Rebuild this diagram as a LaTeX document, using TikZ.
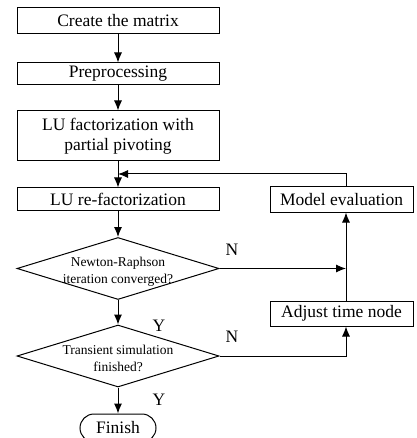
\documentclass[tikz,border=0pt]{standalone}
\usepackage{fontspec}
\setmainfont{Liberation Serif}
\usetikzlibrary{shapes.geometric,shapes.misc,arrows.meta}

\tikzset{
  stepbox/.style={draw, line width=1pt, inner sep=0pt, minimum width=202pt,
    align=center, font=\fontsize{17.5}{20}\selectfont},
  sidebox/.style={draw, line width=1pt, inner sep=0pt, minimum width=143pt,
    minimum height=25pt, font=\fontsize{17.5}{20}\selectfont},
  decision/.style={draw, line width=1pt, diamond, inner sep=0pt,
    minimum width=202pt, minimum height=62pt},
  dectext/.style={align=center, font=\fontsize{13.5}{17}\selectfont},
  term/.style={draw, line width=1pt, rounded rectangle, inner sep=0pt,
    minimum width=76pt, minimum height=28pt, font=\fontsize{17.5}{20}\selectfont},
  flag/.style={font=\fontsize{17.5}{20}\selectfont},
}

\begin{document}
\begin{tikzpicture}[x=1pt,y=-1pt,>={Latex[length=10pt,width=8pt]},line width=1pt]
  \useasboundingbox (0,0) rectangle (416,438);

  % main column
  \node[stepbox, minimum height=26pt] (create) at (118,21) {Create the matrix};
  \node[stepbox, minimum height=22pt] (prep) at (118,74) {Preprocessing};
  \node[stepbox, minimum height=50pt] (lufac) at (118,136) {LU factorization with\\partial pivoting};
  \node[stepbox, minimum height=22pt] (refac) at (118,199) {LU re-factorization};
  \node[decision] (nr) at (118,268.5) {};
  \node[dectext] (nrtext) at (118,272) {Newton-Raphson\\iteration converged?};
  \node[decision] (ts) at (118,356) {};
  \node[dectext] (tstext) at (118,358) {Transient simulation\\finished?};
  \node[term] (finish) at (118,428) {Finish};

  % right column
  \node[sidebox] (model) at (341.5,199.5) {Model evaluation};
  \node[sidebox] (adjust) at (341.5,313.5) {Adjust time node};
  \coordinate (rail) at (346,268.5);
  \coordinate (loop) at (118,174);

  \draw[->] (create) -- (prep);
  \draw[->] (prep) -- (lufac);
  \draw[->] (lufac) -- (refac);
  \draw[->] (refac) -- (nr);
  \draw[->] (nr) -- (ts);
  \draw[->] (ts) -- (finish);

  \draw[->] (nr.east) -- (rail);
  \draw[->] (adjust.north -| rail) -- (model.south -| rail);
  \draw[->] (model.north -| rail) |- (loop);
  \draw[->] (ts.east) -| (adjust.south -| rail);

  \node[flag] (n1) at (232,250) {N};
  \node[flag] (n2) at (232,337) {N};
  \node[flag] (y1) at (159,326) {Y};
  \node[flag] (y2) at (159,400) {Y};
\end{tikzpicture}
\end{document}
